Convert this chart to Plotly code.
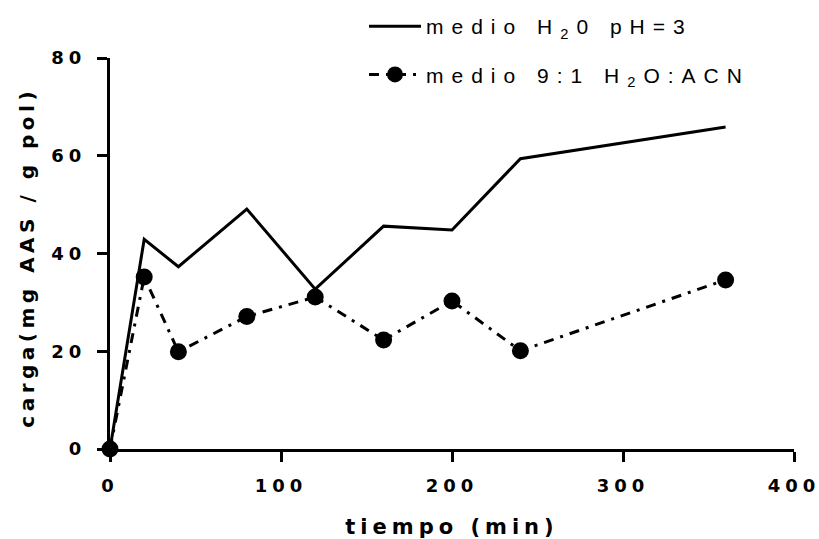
import plotly.graph_objects as go

tiempo = [0, 20, 40, 80, 120, 160, 200, 240, 360]
carga_h2o = [0, 42.9, 37.3, 49.1, 32.7, 45.6, 44.8, 59.4, 65.9]
carga_acn = [0, 35.2, 19.9, 27.1, 31.1, 22.3, 30.3, 20.1, 34.6]

name_h2o = "medio H<sub>2</sub>0 pH=3"
name_acn = "medio 9:1 H<sub>2</sub>O:ACN"
y_title = "carga(mg AAS / g pol)"
x_title = "tiempo (min)"

FONT = "DejaVu Sans, Liberation Sans, Arial"
LEGFONT = dict(family="Liberation Sans, Arial", size=21, color="black")

fig = go.Figure()
fig.add_trace(go.Scatter(
    x=tiempo, y=carga_h2o, mode="lines", name=name_h2o,
    line=dict(color="black", width=3), cliponaxis=False, legendgroup="a"))
fig.add_trace(go.Scatter(
    x=tiempo, y=carga_acn, mode="lines+markers", name=name_acn,
    line=dict(color="black", width=3, dash="10px,7px,3px,7px"),
    marker=dict(color="black", size=17, symbol="circle"),
    cliponaxis=False, legendgroup="b"))

fig.update_layout(
    width=819, height=539,
    margin=dict(l=110, r=25, t=58, b=90, autoexpand=False),
    paper_bgcolor="white", plot_bgcolor="white",
    font=dict(family=FONT, color="black"),
    showlegend=True,
    legend=dict(xref="container", yref="container", x=364/819, y=1 - 6/539,
                xanchor="left", yanchor="top", font=LEGFONT,
                tracegroupgap=18, itemwidth=52, bgcolor="rgba(0,0,0,0)"),
    annotations=[dict(
        text=y_title, xref="paper", yref="paper", x=(27 - 110) / 684, y=0.49,
        xanchor="center", yanchor="middle", textangle=-90, showarrow=False,
        font=dict(family=FONT, size=20, weight="bold", color="black"))],
)
fig.update_xaxes(
    range=[0, 400], tickvals=[0, 100, 200, 300, 400],
    showgrid=False, zeroline=False, showline=True, linecolor="black", linewidth=3,
    ticks="outside", ticklen=10, tickwidth=3, tickcolor="black",
    tickfont=dict(family=FONT, size=18, weight="bold"), ticklabelstandoff=8,
    title=dict(text=x_title, font=dict(family=FONT, size=21, weight="bold"), standoff=26),
)
fig.update_yaxes(
    range=[0, 80], tickvals=[0, 20, 40, 60, 80],
    showgrid=False, zeroline=False, showline=True, linecolor="black", linewidth=3,
    ticks="outside", ticklen=10, tickwidth=3, tickcolor="black",
    tickfont=dict(family=FONT, size=18, weight="bold"), ticklabelstandoff=7,
)

post = """
var s = document.createElement('style');
s.textContent = '.xtick text, .ytick text {letter-spacing:5px;}' +
  '.xtitle {letter-spacing:5px;}' +
  '.annotation-text {letter-spacing:4.5px;}' +
  '.legendtext {letter-spacing:8px;}' +
  '.scrollbox {clip-path:none !important;}';
document.head.appendChild(s);
"""
fig.write_html("out.html", post_script=post)
